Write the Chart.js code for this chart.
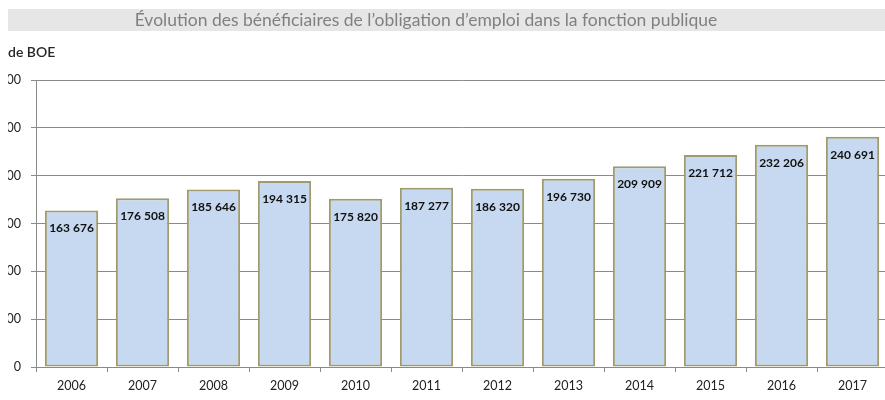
<!DOCTYPE html>
<html>
<head>
<meta charset="utf-8">
<script src="https://cdn.jsdelivr.net/npm/chart.js@4"></script>
<style>
  html, body { margin: 0; padding: 0; background: #fff; overflow: hidden; }
  #wrap { position: absolute; left: 8px; top: 0; width: 877px; height: 400px; overflow: hidden; }
  #chart { position: absolute; left: -60px; top: 0; }
</style>
</head>
<body>
<div id="wrap"><canvas id="chart" width="945" height="400"></canvas></div>
<script>
// données
const years = ['2006','2007','2008','2009','2010','2011','2012','2013','2014','2015','2016','2017'];
const boe = [163676, 176508, 185646, 194315, 175820, 187277, 186320, 196730, 209909, 221712, 232206, 240691];
const titre = 'Évolution des bénéficiaires de l’obligation d’emploi dans la fonction publique';
const axeY = ['Nombre ', 'de BOE'];

const fmt = v => String(v).replace(/\B(?=(\d{3})+(?!\d))/g, ' ');

// bandeau titre, libellé d'axe et étiquettes de valeurs
const decor = {
    id: 'decor',
    beforeDraw(chart) {
        const c = chart.ctx;
        c.save();
        c.fillStyle = '#e6e6e6';
        c.fillRect(60, 9, chart.width - 60, 22);
        c.restore();
    },
    afterDatasetsDraw(chart) {
        const c = chart.ctx;
        const meta = chart.getDatasetMeta(0);
        c.save();
        c.font = 'bold 12px Lato';
        c.fillStyle = '#111';
        c.textAlign = 'center';
        c.textBaseline = 'middle';
        meta.data.forEach((bar, i) => {
            c.fillText(fmt(boe[i]), bar.x, bar.y + 18);
        });
        c.restore();
    },
    afterDraw(chart) {
        const c = chart.ctx;
        c.save();
        c.font = '17.5px Lato';
        c.fillStyle = '#808080';
        c.textAlign = 'center';
        c.textBaseline = 'middle';
        c.fillText(titre, 478, 20);
        // libellé d'axe, coupé à gauche comme dans l'original
        c.font = '600 14px Lato';
        c.fillStyle = '#262626';
        c.textAlign = 'left';
        const w = c.measureText(axeY[0]).width;
        c.fillText(axeY.join(''), 60 - w, 52);
        c.restore();
    }
};

new Chart(document.getElementById('chart'), {
    type: 'bar',
    data: {
        labels: years,
        datasets: [{
            data: boe,
            backgroundColor: '#c6d9f0',
            borderColor: '#a09b6c',
            borderWidth: 2,
            borderSkipped: false,
            barPercentage: 0.75,
            categoryPercentage: 1,
        }],
    },
    options: {
        responsive: false,
        animation: false,
        layout: { padding: { top: 80, right: 5, left: 0, bottom: 0 } },
        plugins: { legend: { display: false }, tooltip: { enabled: false } },
        scales: {
            x: {
                afterFit: s => { s.height = 33; },
                grid: { drawOnChartArea: false, offset: true, tickLength: 5, color: '#8a8a8a' },
                border: { color: '#8a8a8a' },
                ticks: { font: { family: 'Lato', size: 12.5 }, color: '#222', padding: 6 },
            },
            y: {
                min: 0,
                max: 300000,
                afterFit: s => { s.width = 88; },
                grid: { color: '#8a8a8a', tickLength: 5 },
                border: { color: '#8a8a8a' },
                ticks: { stepSize: 50000, callback: v => fmt(v), font: { family: 'Lato', size: 12.5 }, color: '#222', padding: 10 },
            },
        },
    },
    plugins: [decor],
});
</script>
</body>
</html>
